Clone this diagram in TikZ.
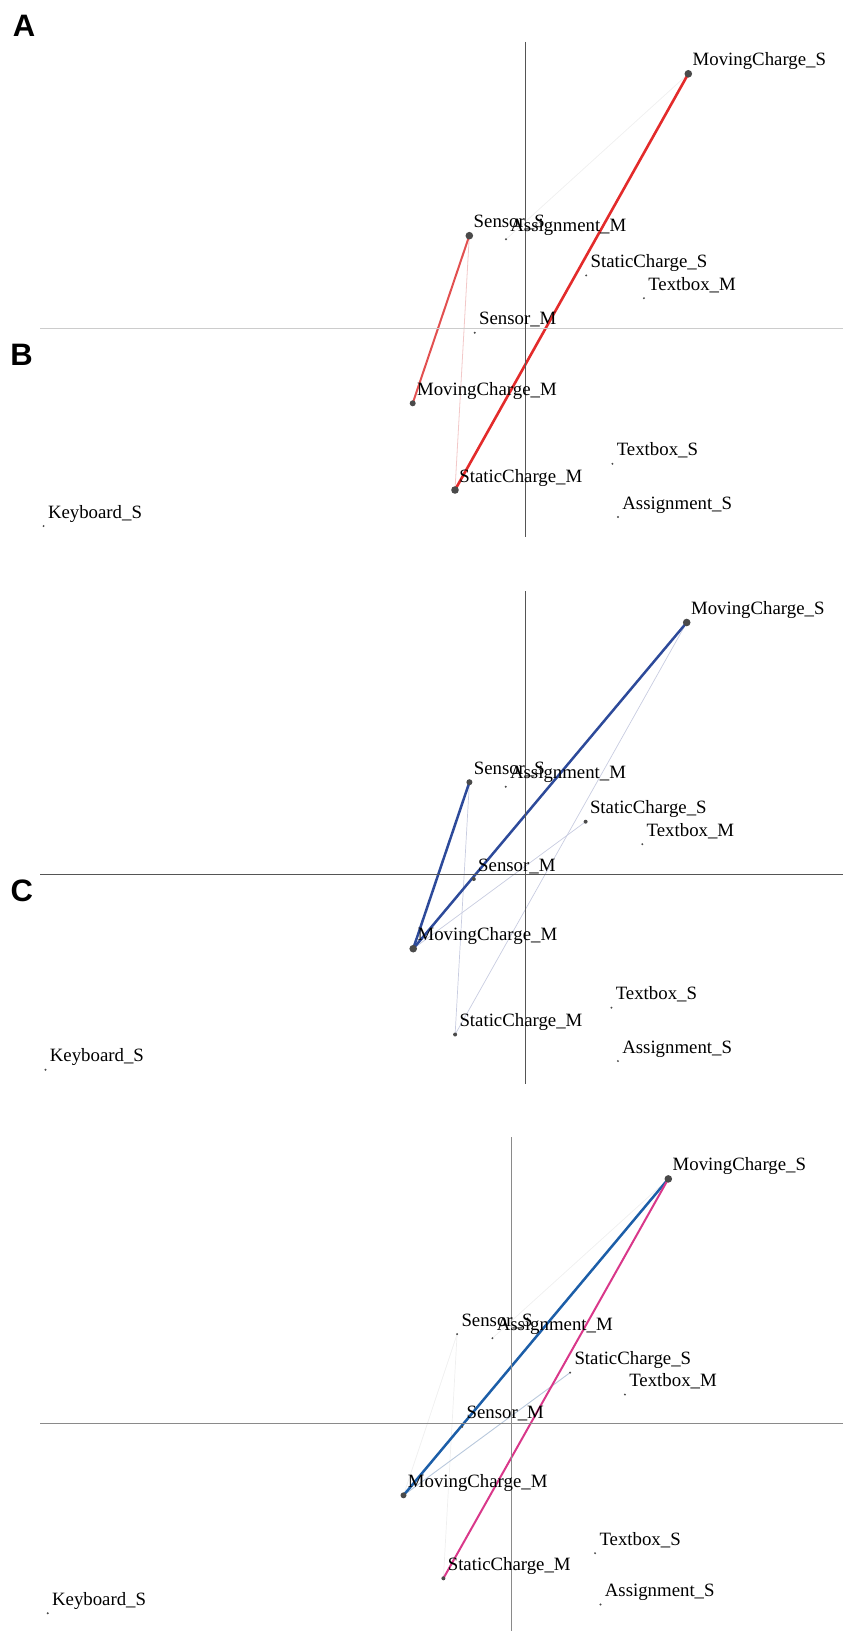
\documentclass[tikz,border=0pt]{standalone}
\usepackage{fontspec}
\setmainfont{Liberation Serif}
\newfontfamily\panelfont{Liberation Sans}
\usetikzlibrary{backgrounds}
\definecolor{dotc}{HTML}{4A4A4A}
\definecolor{axdark}{HTML}{555555}
\definecolor{axlight}{HTML}{CCCCCC}
\definecolor{axmid}{HTML}{8A8A8A}
\definecolor{redA}{HTML}{E32B2B}
\definecolor{redB}{HTML}{E25050}
\definecolor{pinkA}{HTML}{F2C8C8}
\definecolor{blueB}{HTML}{2D4A9A}
\definecolor{blueC}{HTML}{1C5EA8}
\definecolor{pinkC}{HTML}{D9388A}
\definecolor{faintB}{HTML}{C8CCE0}
\definecolor{faintC}{HTML}{B8C8DC}
\definecolor{faintG}{HTML}{EFEFEF}
\tikzset{
  dotbase/.style={circle, fill=dotc, inner sep=0pt, draw=none},
  dotL/.style={dotbase, minimum size=3.8pt},
  dotM/.style={dotbase, minimum size=3pt},
  dotN/.style={dotbase, minimum size=2pt},
  dotS/.style={dotbase, minimum size=1.1pt},
  lbl/.style={anchor=base west, inner sep=0pt, font=\fontsize{9.4}{11}\selectfont, text=black},
  panellbl/.style={inner sep=0pt, font=\panelfont\bfseries\fontsize{15.5}{18}\selectfont},
  axisd/.style={draw=axdark, line width=0.5pt},
  axisl/.style={draw=axlight, line width=0.5pt},
  axism/.style={draw=axmid, line width=0.5pt},
  strongred/.style={draw=redA, line width=1.3pt},
  midred/.style={draw=redB, line width=1.0pt},
  weakpink/.style={draw=pinkA, line width=0.4pt},
  strongblueB/.style={draw=blueB, line width=1.25pt},
  strongblueC/.style={draw=blueC, line width=1.25pt},
  strongpinkC/.style={draw=pinkC, line width=1.0pt},
  faintb/.style={draw=faintB, line width=0.35pt},
  faintc/.style={draw=faintC, line width=0.45pt},
  faintg/.style={draw=faintG, line width=0.35pt},
}
\newcommand\pnt[5]{%
  \node[#4] (#1) at (#2,#3) {};
  \node[lbl] (#1t) at ([shift={(2pt,4pt)}]#1.center) {#5};}
\begin{document}
\begin{tikzpicture}[x=0.5pt,y=-0.5pt]
\useasboundingbox (0,0) rectangle (850,1637);

% ---------------- Panel A ----------------
\node[panellbl] (labA) at (24,26) {A};
\coordinate (aVt) at (525,42);
\coordinate (aVb) at (525,537);
\coordinate (aHl) at (40,328);
\coordinate (aHr) at (843,328);
\draw[axisl] (aHl) -- (aHr);
\draw[axisd] (aVt) -- (aVb);

\pnt{aMCS}{688.3}{73.8}{dotL}{MovingCharge\_S}
\pnt{aSS}{469.3}{235.7}{dotL}{Sensor\_S}
\pnt{aAM}{506}{239.3}{dotS}{Assignment\_M}
\pnt{aSCS}{586.2}{275.4}{dotS}{StaticCharge\_S}
\pnt{aTM}{643.9}{298.2}{dotS}{Textbox\_M}
\pnt{aSM}{474.7}{332.7}{dotS}{Sensor\_M}
\pnt{aMCM}{412.7}{403.3}{dotM}{MovingCharge\_M}
\pnt{aTS}{612.4}{463.8}{dotS}{Textbox\_S}
\pnt{aSCM}{455}{490}{dotL}{StaticCharge\_M}
\pnt{aAS}{618}{517}{dotS}{Assignment\_S}
\pnt{aKS}{43.6}{526}{dotS}{Keyboard\_S}

\begin{pgfonlayer}{background}
\draw[faintg] (aMCS.center) -- (aAM.center);
\draw[weakpink] (aSS.center) -- (aSCM.center);
\draw[midred] (aSS.center) -- (aMCM.center);
\draw[strongred] (aMCS.center) -- (aSCM.center);
\end{pgfonlayer}

\node[panellbl] (labB) at (21.5,355) {B};

% ---------------- Panel B ----------------
\coordinate (bVt) at (525,591);
\coordinate (bVb) at (525,1084);
\coordinate (bHl) at (40,874.4);
\coordinate (bHr) at (843,874.4);
\draw[axisd] (bHl) -- (bHr);
\draw[axisd] (bVt) -- (bVb);

\pnt{bMCS}{686.7}{622.5}{dotL}{MovingCharge\_S}
\pnt{bSS}{469.4}{782.2}{dotM}{Sensor\_S}
\pnt{bAM}{505.7}{786.7}{dotS}{Assignment\_M}
\pnt{bSCS}{585.6}{821.7}{dotN}{StaticCharge\_S}
\pnt{bTM}{642.3}{844.2}{dotS}{Textbox\_M}
\pnt{bSM}{473.8}{879}{dotN}{Sensor\_M}
\pnt{bMCM}{413.2}{948.7}{dotL}{MovingCharge\_M}
\pnt{bTS}{611.4}{1007.7}{dotS}{Textbox\_S}
\pnt{bSCM}{455.1}{1034.5}{dotN}{StaticCharge\_M}
\pnt{bAS}{617.9}{1061}{dotS}{Assignment\_S}
\pnt{bKS}{45.5}{1069.8}{dotS}{Keyboard\_S}

\begin{pgfonlayer}{background}
\draw[faintb] (bMCS.center) -- (bSCM.center);
\draw[faintb] (bSS.center) -- (bSCM.center);
\draw[faintb] (bMCM.center) -- (bSCS.center);
\draw[strongblueB] (bMCM.center) -- (bMCS.center);
\draw[strongblueB] (bMCM.center) -- (bSS.center);
\end{pgfonlayer}

\node[panellbl] (labC) at (21.7,891) {C};

% ---------------- Panel C ----------------
\coordinate (cVt) at (511.4,1137);
\coordinate (cVb) at (511.4,1631);
\coordinate (cHl) at (40,1423.2);
\coordinate (cHr) at (843,1423.2);
\draw[axism] (cHl) -- (cHr);
\draw[axism] (cVt) -- (cVb);

\pnt{cMCS}{668.3}{1178.9}{dotL}{MovingCharge\_S}
\pnt{cSS}{457.1}{1334.1}{dotS}{Sensor\_S}
\pnt{cAM}{492.4}{1338.2}{dotS}{Assignment\_M}
\pnt{cSCS}{570.1}{1372.6}{dotS}{StaticCharge\_S}
\pnt{cTM}{624.9}{1394.5}{dotS}{Textbox\_M}
\pnt{cSM}{462.2}{1426.7}{dotS}{Sensor\_M}
\pnt{cMCM}{403.5}{1495.3}{dotM}{MovingCharge\_M}
\pnt{cTS}{595.1}{1553.2}{dotS}{Textbox\_S}
\pnt{cSCM}{443.4}{1578.3}{dotN}{StaticCharge\_M}
\pnt{cAS}{600.5}{1604.5}{dotS}{Assignment\_S}
\pnt{cKS}{47.7}{1613.2}{dotS}{Keyboard\_S}

\begin{pgfonlayer}{background}
\draw[faintg] (cMCS.center) -- (cAM.center);
\draw[faintg] (cSS.center) -- (cSCM.center);
\draw[faintg] (cSS.center) -- (cMCM.center);
\draw[faintc] (cMCM.center) -- (cSCS.center);
\draw[strongblueC] (cMCM.center) -- (cMCS.center);
\draw[strongpinkC] (cSCM.center) -- (cMCS.center);
\end{pgfonlayer}
\end{tikzpicture}
\end{document}
